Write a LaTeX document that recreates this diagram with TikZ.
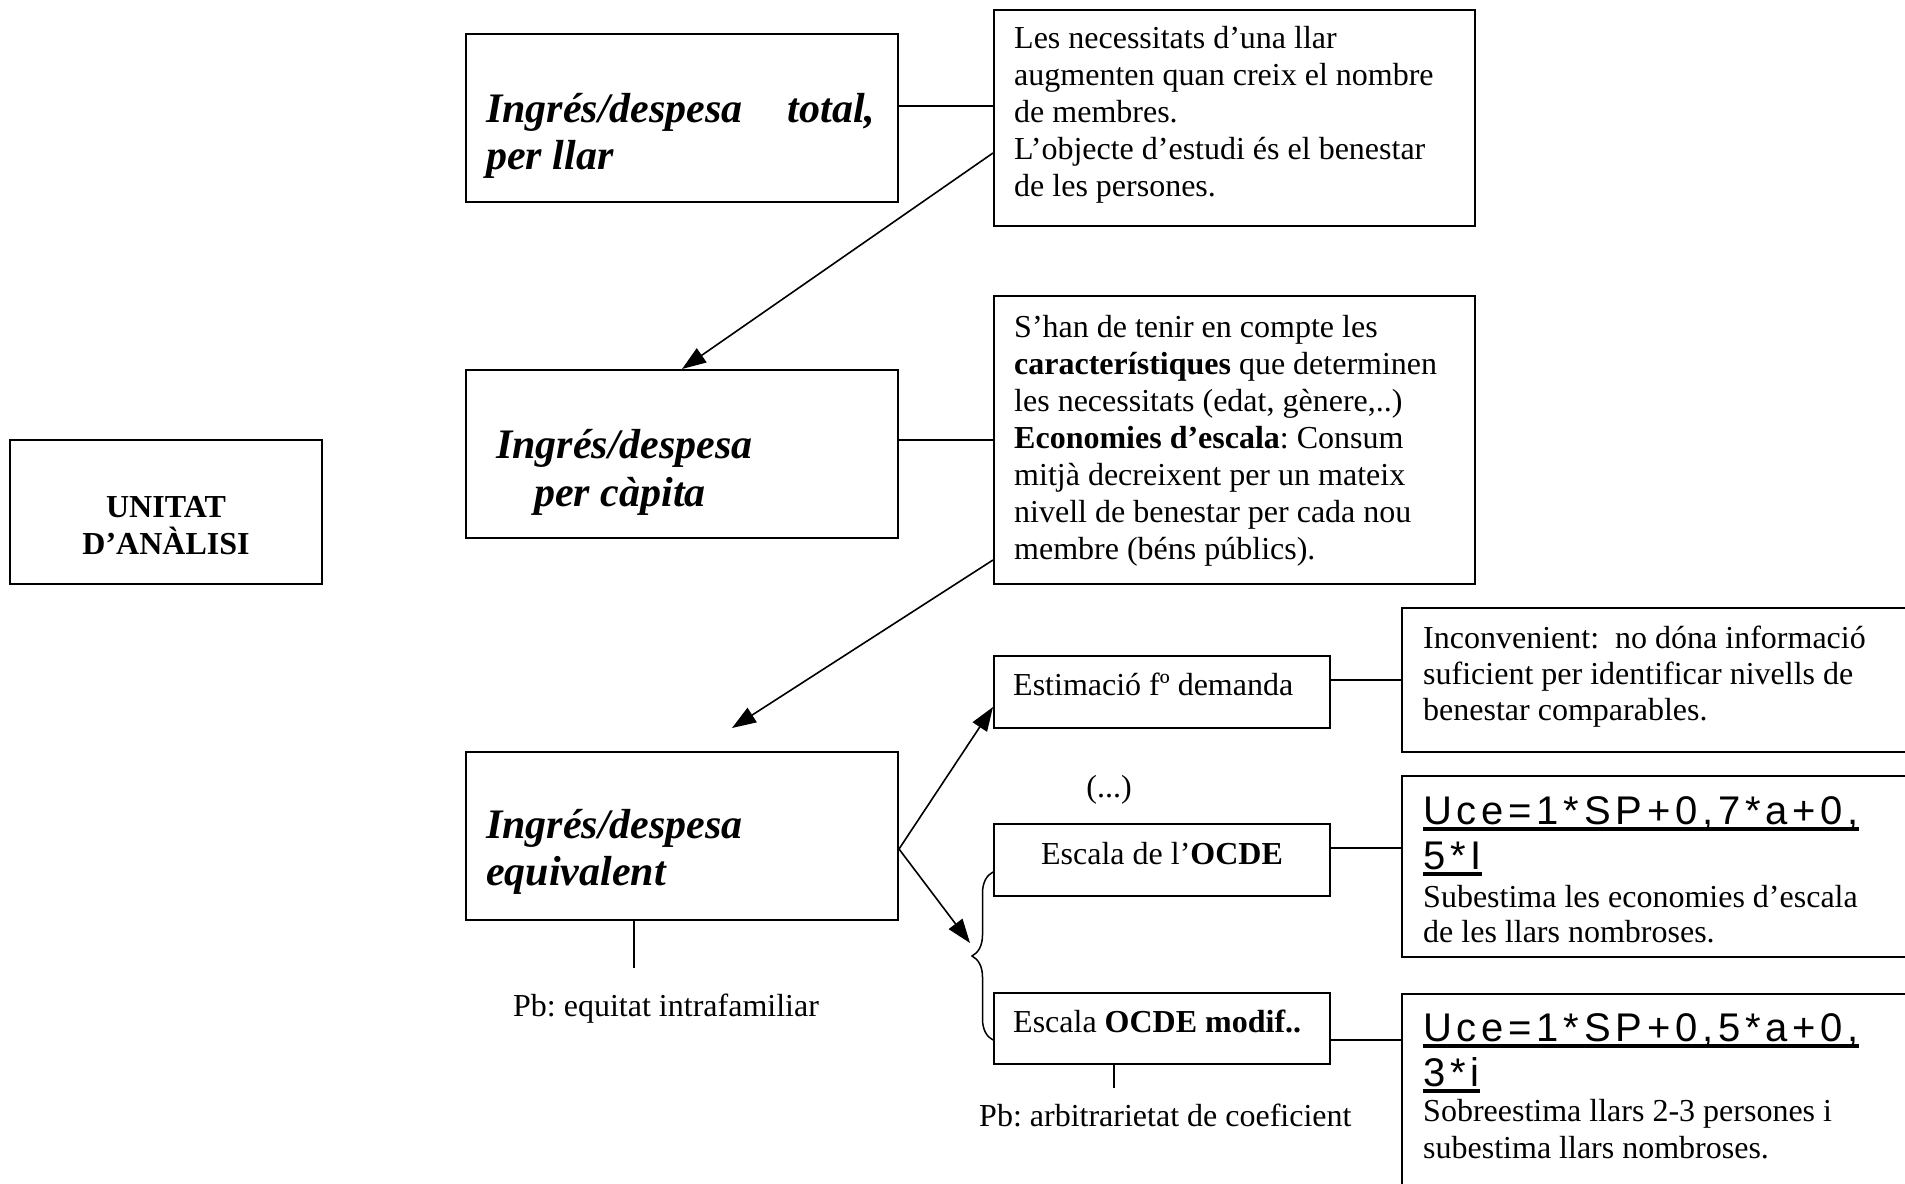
\documentclass[tikz,border=0pt]{standalone}
\usepackage{fontspec}
\setmainfont{Liberation Serif}
\newfontfamily\ucef[LetterSpace=12]{Liberation Sans}
\usetikzlibrary{arrows.meta,decorations.pathreplacing}
\newlength\myulw
\newcommand\myul[1]{\leavevmode\settowidth\myulw{#1}\rlap{\rule[-7pt]{\myulw}{4pt}}#1}
\newcommand\nfont{\fontsize{32pt}{37pt}\selectfont}
\newcommand\hfont{\fontsize{42pt}{47.5pt}\selectfont\bfseries\itshape}
\frenchspacing
\begin{document}
\begin{tikzpicture}[x=1pt,y=-1pt,
  box/.style={draw,line width=2pt,inner sep=0pt},
  conn/.style={line width=2pt},
  arr/.style={line width=1.6pt,-{Triangle[length=24pt,width=17pt]}},
  txt/.style={inner sep=0pt,anchor=base west},
  ctxt/.style={inner sep=0pt,anchor=base}]
\useasboundingbox (0,0) rectangle (1905,1183);
\clip (0,0) rectangle (1905,1183);
% boxes
\node[box,minimum width=312pt,minimum height=144pt] (unitat) at (166,512) {};
\node[box,minimum width=432pt,minimum height=168pt] (b1) at (682,118) {};
\node[box,minimum width=432pt,minimum height=168pt] (b2) at (682,454) {};
\node[box,minimum width=432pt,minimum height=168pt] (b3) at (682,836) {};
\node[box,minimum width=481pt,minimum height=216pt] (n1) at (1234.5,118) {};
\node[box,minimum width=481pt,minimum height=288pt] (n2) at (1234.5,440) {};
\node[box,minimum width=336pt,minimum height=72pt] (e1) at (1162,692) {};
\node[box,minimum width=336pt,minimum height=72pt] (e2) at (1162,860) {};
\node[box,minimum width=336pt,minimum height=71pt] (e3) at (1162,1028.5) {};
\node[box,minimum width=518pt,minimum height=144pt] (r1) at (1661,680) {};
\node[box,minimum width=518pt,minimum height=181pt] (r2) at (1661,866.5) {};
\node[box,minimum width=518pt,minimum height=206pt] (r3) at (1661,1097) {};
% texts
\node[ctxt] (unitatt) at (166,517) {\parbox[t]{300pt}{\centering\nfont\bfseries UNITAT\\ D’ANÀLISI}};
\node[txt] (b1t) at (486,122) {\parbox[t]{420pt}{\raggedright\hfont \makebox[389pt][s]{Ingrés/despesa\hfill total,}\\ per llar}};
\node[txt] (b2ta) at (496,458) {\hfont Ingrés/despesa};
\node[txt] (b2tb) at (534,506) {\hfont per càpita};
\node[txt] (b3t) at (486,838) {\parbox[t]{420pt}{\raggedright\hfont Ingrés/despesa\\ equivalent}};
\node[txt] (n1t) at (1014,48.7) {\parbox[t]{460pt}{\raggedright\nfont Les necessitats d’una llar\\ augmenten quan creix el nombre\\ de membres.\\ L’objecte d’estudi és el benestar\\ de les persones.}};
\node[txt] (n2t) at (1014,337) {\parbox[t]{460pt}{\raggedright\nfont S’han de tenir en compte les\\ \textbf{característiques} que determinen\\ les necessitats (edat, gènere,..)\\ \textbf{Economies d’escala}: Consum\\ mitjà decreixent per un mateix\\ nivell de benestar per cada nou\\ membre (béns públics).}};
\node[txt] (e1t) at (1013,695) {\nfont Estimació fº demanda};
\node[ctxt] (e2t) at (1162,864) {\nfont Escala de l’\textbf{OCDE}};
\node[txt] (e3t) at (1013,1032) {\nfont Escala \textbf{OCDE modif..}};
\node[ctxt] (dots) at (1109,797) {\nfont (...)};
\node[txt] (r1t) at (1423,648) {\parbox[t]{480pt}{\raggedright\fontsize{32pt}{36pt}\selectfont Inconvenient:\ \ no dóna informació\\ suficient per identificar nivells de\\ benestar comparables.}};
\node[txt] (r2f) at (1423,824) {\parbox[t]{480pt}{\raggedright\ucef\fontsize{40pt}{45pt}\selectfont \myul{Uce=1*SP+0,7*a+0,}\\ \myul{5*I}}};
\node[txt] (r2t) at (1423,907) {\parbox[t]{480pt}{\raggedright\fontsize{32pt}{35pt}\selectfont Subestima les economies d’escala\\ de les llars nombroses.}};
\node[txt] (r3f) at (1423,1041) {\parbox[t]{480pt}{\raggedright\ucef\fontsize{40pt}{45pt}\selectfont \myul{Uce=1*SP+0,5*a+0,}\\ \myul{3*i}}};
\node[txt] (r3t) at (1423,1121) {\parbox[t]{480pt}{\raggedright\fontsize{32pt}{37pt}\selectfont Sobreestima llars 2-3 persones i\\ subestima llars nombroses.}};
\node[txt] (pb1) at (513,1016) {\nfont Pb: equitat intrafamiliar};
\node[txt] (pb2) at (979,1126) {\nfont Pb: arbitrarietat de coeficient};
% free ends
\coordinate (t2) at (732,728);
\coordinate (brtip) at (970,943);
\coordinate (pb1top) at (634,968);
\coordinate (pb2top) at (1114,1088);
% connectors
\draw[conn] (b1.east |- 0,106) -- (n1.west |- 0,106);
\draw[conn] (b2.east |- 0,440) -- (n2.west |- 0,440);
\draw[conn] (e1.east |- 0,680) -- (r1.west |- 0,680);
\draw[conn] (e2.east |- 0,848) -- (r2.west |- 0,848);
\draw[conn] (e3.east |- 0,1040) -- (r3.west |- 0,1040);
\draw[arr] (n1.west |- 0,153) -- (b2.north);
\draw[arr] (n2.west |- 0,560) -- (t2);
\draw[arr] (b3.east |- 0,849) -- (e1.west |- 0,707);
\draw[arr] (b3.east |- 0,849) -- (brtip);
\draw[line width=1.5pt] (b3.south -| pb1top) -- (pb1top);
\draw[line width=1.5pt] (e3.south -| pb2top) -- (pb2top);
\draw[line width=1.5pt,decorate,decoration={brace,amplitude=21pt}] (993,1040) -- (993,872);
\end{tikzpicture}
\end{document}
